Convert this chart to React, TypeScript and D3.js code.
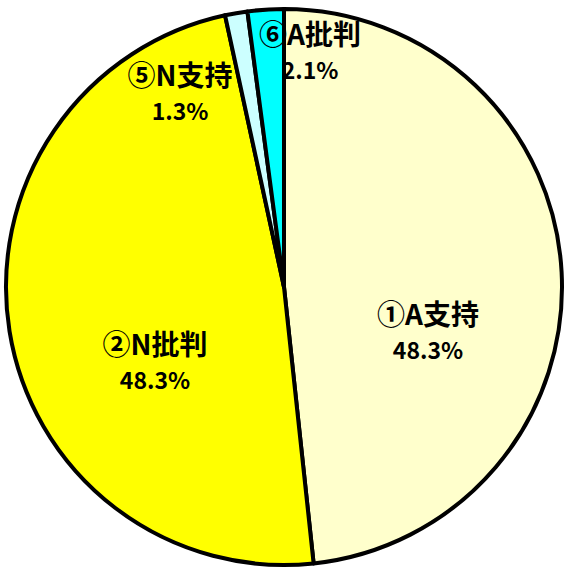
import { useEffect, useRef } from "react";
import * as d3 from "d3";

const categories = ["①A支持", "②N批判", "⑤N支持", "⑥A批判"];
const values = [48.3, 48.3, 1.3, 2.1];
const valueLabels = ["48.3%", "48.3%", "1.3%", "2.1%"];
const colors = ["#FFFFCC", "#FFFF00", "#CCFFFF", "#00FFFF"];

// label anchors (offset from the pie centre) picked by eye
const labelPos: [number, number][] = [
  [144, 38],
  [-129, 68],
  [-104, -201],
  [26, -242],
];

const App = () => {
  const ref = useRef<SVGSVGElement | null>(null);

  useEffect(() => {
    document.body.style.margin = "0";
    if (!ref.current) return;
    const width = 568;
    const height = 580;
    const cx = 284;
    const cy = 287;
    const radius = 278;

    const svg = d3.select(ref.current);
    svg.selectAll("*").remove();
    svg.attr("width", width).attr("height", height);

    const data = categories.map((c, i) => ({ name: c, value: values[i], label: valueLabels[i], color: colors[i] }));

    const pie = d3
      .pie<(typeof data)[number]>()
      .value((d) => d.value)
      .sort(null);

    const arc = d3
      .arc<d3.PieArcDatum<(typeof data)[number]>>()
      .innerRadius(0)
      .outerRadius(radius);

    const g = svg.append("g").attr("transform", `translate(${cx},${cy})`);

    g.selectAll("path")
      .data(pie(data))
      .enter()
      .append("path")
      .attr("d", arc)
      .attr("fill", (d) => d.data.color)
      .attr("stroke", "#000")
      .attr("stroke-width", 4)
      .attr("stroke-linejoin", "round");

    const labels = g
      .selectAll("g.label")
      .data(data)
      .enter()
      .append("g")
      .attr("class", "label")
      .attr("transform", (_d, i) => `translate(${labelPos[i][0]},${labelPos[i][1]})`)
      .style("font-family", "'Noto Sans CJK JP', 'Noto Sans', sans-serif")
      .style("font-weight", "bold")
      .attr("text-anchor", "middle")
      .attr("fill", "#000");

    labels
      .append("text")
      .attr("y", 0)
      .style("font-size", "28px")
      .text((d) => d.name);

    labels
      .append("text")
      .attr("y", 34)
      .style("font-size", "23px")
      .text((d) => d.label);
  }, []);

  return <svg ref={ref} style={{ display: "block", background: "#fff" }} />;
};

export default App;
